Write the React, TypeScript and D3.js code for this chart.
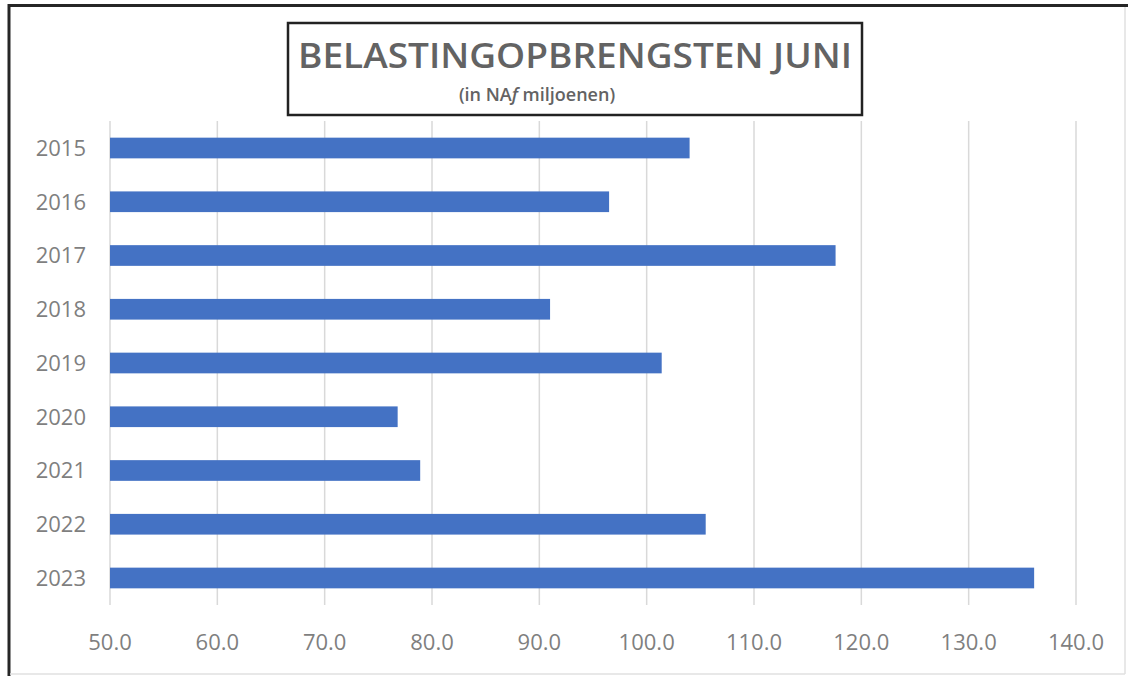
import { useEffect, useRef } from 'react';
import * as d3 from 'd3';

const years = ['2015', '2016', '2017', '2018', '2019', '2020', '2021', '2022', '2023'];
const revenue = [104.0, 96.5, 117.6, 91.0, 101.4, 76.8, 78.9, 105.5, 136.1];
const xTicks = [50, 60, 70, 80, 90, 100, 110, 120, 130, 140];

const W = 1128;
const H = 676;

export default function App() {
  const svgRef = useRef<SVGSVGElement>(null);

  useEffect(() => {
    if (!svgRef.current) return;
    const root = d3.select(svgRef.current);
    root.selectAll('*').remove();

    const font = "'Open Sans', 'DejaVu Sans', sans-serif";
    const plot = { left: 110, right: 1076, top: 121, bottom: 605 };

    // Background
    root.append('rect').attr('width', W).attr('height', H).attr('fill', '#fff');

    // Outer frame: dark on top/left, light on right/bottom
    root.append('line').attr('x1', 8).attr('x2', W).attr('y1', 5.5).attr('y2', 5.5)
      .attr('stroke', '#262626').attr('stroke-width', 3);
    root.append('line').attr('x1', 9).attr('x2', 9).attr('y1', 4).attr('y2', H)
      .attr('stroke', '#262626').attr('stroke-width', 3);
    root.append('line').attr('x1', 1125).attr('x2', 1125).attr('y1', 7).attr('y2', 674)
      .attr('stroke', '#e0e0e0').attr('stroke-width', 1.5);
    root.append('line').attr('x1', 10).attr('x2', 1125).attr('y1', 674).attr('y2', 674)
      .attr('stroke', '#e0e0e0').attr('stroke-width', 1.5);

    const x = d3.scaleLinear().domain([50, 140]).range([plot.left, plot.right]);
    const y = d3.scaleBand<string>().domain(years).range([plot.top, plot.bottom]).paddingInner(0.615).paddingOuter(0.31);

    // Gridlines
    root.append('g')
      .selectAll('line')
      .data(xTicks)
      .enter()
      .append('line')
      .attr('x1', d => x(d))
      .attr('x2', d => x(d))
      .attr('y1', plot.top)
      .attr('y2', plot.bottom)
      .attr('stroke', '#d9d9d9')
      .attr('stroke-width', 1.5);

    // Bars
    root.append('g')
      .selectAll('rect')
      .data(years)
      .enter()
      .append('rect')
      .attr('x', x(50))
      .attr('y', d => y(d) as number)
      .attr('width', (d, i) => x(revenue[i]) - x(50))
      .attr('height', y.bandwidth())
      .attr('fill', '#4472c4');

    // Y labels
    root.append('g')
      .selectAll('text')
      .data(years)
      .enter()
      .append('text')
      .attr('x', 86)
      .attr('y', d => (y(d) as number) + y.bandwidth() / 2)
      .attr('dy', '0.36em')
      .attr('text-anchor', 'end')
      .attr('fill', '#7f7f7f')
      .style('font-family', font)
      .style('font-size', '22px')
      .text(d => d);

    // X labels
    root.append('g')
      .selectAll('text')
      .data(xTicks)
      .enter()
      .append('text')
      .attr('x', d => x(d))
      .attr('y', 650)
      .attr('text-anchor', 'middle')
      .attr('fill', '#7f7f7f')
      .style('font-family', font)
      .style('font-size', '22px')
      .text(d => d3.format('.1f')(d));

    // Title box
    root.append('rect')
      .attr('x', 288).attr('y', 23).attr('width', 574).attr('height', 92)
      .attr('fill', '#fff').attr('stroke', '#222').attr('stroke-width', 2.5);

    root.append('text')
      .attr('x', 575).attr('y', 68)
      .attr('text-anchor', 'middle')
      .attr('fill', '#636363')
      .attr('textLength', 554)
      .attr('lengthAdjust', 'spacingAndGlyphs')
      .style('font-family', font)
      .style('font-size', '34px')
      .style('font-weight', 600)
      .text('BELASTINGOPBRENGSTEN JUNI');

    const sub = root.append('text')
      .attr('x', 537).attr('y', 101)
      .attr('text-anchor', 'middle')
      .attr('fill', '#636363')
      .style('font-family', font)
      .style('font-size', '18px')
      .style('font-weight', 600);
    sub.append('tspan').text('(in NA');
    sub.append('tspan').style('font-style', 'italic').text('f');
    sub.append('tspan').text(' miljoenen)');
  }, []);

  return (
    <svg
      ref={svgRef}
      width={W}
      height={H}
      style={{ position: 'absolute', left: 0, top: 0, display: 'block' }}
    />
  );
}
